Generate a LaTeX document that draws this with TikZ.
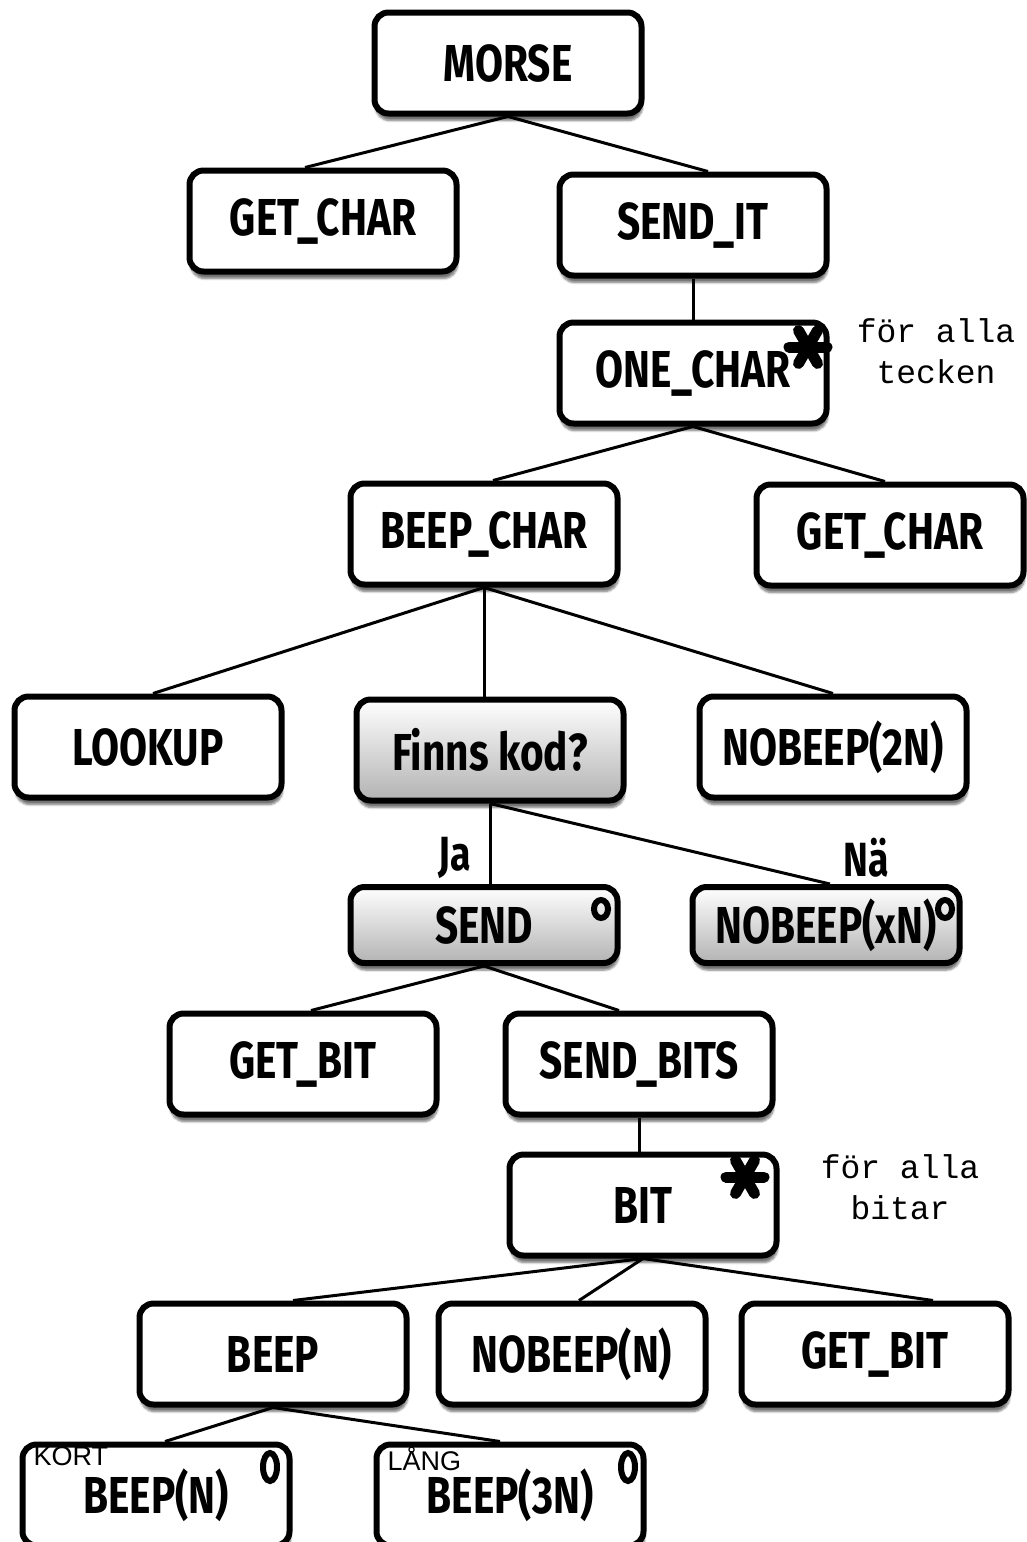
\documentclass[tikz,border=0pt]{standalone}
\usepackage{fontspec}
\setmainfont{Liberation Sans}
\newfontfamily\boxfont[FakeStretch=0.78]{Fira Sans}
\newfontfamily\notefont{Liberation Mono}
\usetikzlibrary{shadows.blur}
\tikzset{
  modul/.style={draw, line width=6pt, rounded corners=14pt, fill=white,
    minimum width=267pt, minimum height=101pt, inner sep=0pt,
    blur shadow={shadow xshift=1pt, shadow yshift=-7pt, shadow blur steps=6, shadow opacity=55},
    font=\boxfont\bfseries\fontsize{52}{60}\selectfont},
  val/.style={modul, top color=white, bottom color=black!30},
  kant/.style={line width=3pt},
  ring/.style={line width=6pt},
  stjarna/.style={line width=11pt, line cap=round},
  svar/.style={font=\boxfont\bfseries\fontsize{48}{54}\selectfont, inner sep=0pt},
  anm/.style={font=\notefont\fontsize{33}{41}\selectfont, align=center},
  etikett/.style={anchor=north west, inner sep=0pt, font=\fontsize{27}{27}\selectfont}
}
\begin{document}
\begin{tikzpicture}[x=1pt,y=-1pt]
        \useasboundingbox (0,0) rectangle (1026,1542);
        %% top level
        \node[modul] (morse) at (508,63) {MORSE};
        \node[modul] (gchar) at (323,221) {GET\_CHAR};
        \node[modul] (sendit) at (693,225) {SEND\_IT};
        \node[modul] (onechar) at (693,373) {ONE\_CHAR};
        \node[anm] (tecken) at (936,351) {för alla\\tecken};
        %% one character
        \node[modul] (bchar) at (484,534) {BEEP\_CHAR};
        \node[modul] (gchartwo) at (890,535) {GET\_CHAR};
        \node[modul] (lookup) at (148,747) {LOOKUP};
        \node[val] (finns) at (490,750) {Finns kod?};
        \node[modul] (nobtwo) at (833,747) {NOBEEP(2N)};
        %% selection
        \node[val, minimum height=76pt] (send) at (484,925) {SEND};
        \node[val, minimum height=76pt] (nobx) at (826,925) {NOBEEP(xN)};
        \node[svar] (ja) at (455,858) {Ja};
        \node[svar] (na) at (866,858) {Nä};
        %% bits
        \node[modul] (gbit) at (303,1064) {GET\_BIT};
        \node[modul] (sendbits) at (639,1064) {SEND\_BITS};
        \node[modul] (bit) at (643,1205) {BIT};
        \node[anm] (bitar) at (900,1187) {för alla\\bitar};
        \node[modul] (beep) at (273,1354) {BEEP};
        \node[modul] (nobn) at (572,1354) {NOBEEP(N)};
        \node[modul] (gbittwo) at (875,1354) {GET\_BIT};
        \node[modul] (beepn) at (156,1495) {BEEP(N)};
        \node[modul] (beeptre) at (510,1495) {BEEP(3N)};
        \node[etikett] (kort) at ([xshift=14pt,yshift=-5pt]beepn.north west) {KORT};
        \node[etikett] (lang) at ([xshift=14pt,yshift=-5pt]beeptre.north west) {LÅNG};
        %% connectors
        \draw[kant] (morse.south) -- ([xshift=-18pt]gchar.north);
        \draw[kant] (morse.south) -- ([xshift=15pt]sendit.north);
        \draw[kant] (sendit.south) -- (onechar.north);
        \draw[kant] (onechar.south) -- ([xshift=9pt]bchar.north);
        \draw[kant] (onechar.south) -- ([xshift=-5pt]gchartwo.north);
        \draw[kant] (bchar.south) -- ([xshift=5pt]lookup.north);
        \draw[kant] (bchar.south) -- (bchar.south |- finns.north);
        \draw[kant] (bchar.south) -- (nobtwo.north);
        \draw[kant] (finns.south) -- (finns.south |- send.north);
        \draw[kant] (finns.south) -- ([xshift=4pt]nobx.north);
        \draw[kant] (send.south) -- ([xshift=8pt]gbit.north);
        \draw[kant] (send.south) -- ([xshift=-20pt]sendbits.north);
        \draw[kant] (sendbits.south) -- (sendbits.south |- bit.north);
        \draw[kant] (bit.south) -- ([xshift=20pt]beep.north);
        \draw[kant] (bit.south) -- ([xshift=7pt]nobn.north);
        \draw[kant] (bit.south) -- ([xshift=58pt]gbittwo.north);
        \draw[kant] (beep.south) -- ([xshift=9pt]beepn.north);
        \draw[kant] (beep.south) -- ([xshift=-10pt]beeptre.north);
        %% iteration and selection marks
        \foreach \a in {0,60,120}
            \draw[stjarna] ([shift={(\a:19)}]808,347) -- ([shift={(\a+180:19)}]808,347);
        \foreach \a in {0,60,120}
            \draw[stjarna] ([shift={(\a:19)}]745,1177) -- ([shift={(\a+180:19)}]745,1177);
        \draw[ring] (601,909) ellipse (7 and 9);
        \draw[ring] (945,909) ellipse (7 and 9);
        \draw[ring] (270,1467) ellipse (7 and 14);
        \draw[ring] (628,1467) ellipse (7 and 14);
    \end{tikzpicture}
\end{document}
